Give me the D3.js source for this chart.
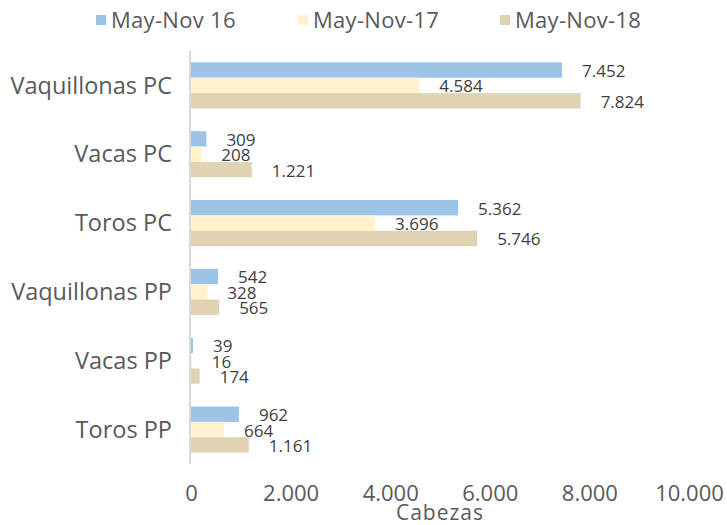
<!DOCTYPE html>
<html>
<head>
<meta charset="utf-8">
<script src="https://cdn.jsdelivr.net/npm/d3@7"></script>
<style>
  body { margin: 0; background: #fff; }
  text { font-family: "Open Sans", sans-serif; }
</style>
</head>
<body>
<div id="chart"></div>
<script>
const width = 727,
  height = 525;

const categories = ["Vaquillonas PC", "Vacas PC", "Toros PC", "Vaquillonas PP", "Vacas PP", "Toros PP"];
const seriesNames = ["May-Nov 16", "May-Nov-17", "May-Nov-18"];
const may16 = [7452, 309, 5362, 542, 39, 962];
const may17 = [4584, 208, 3696, 328, 16, 664];
const may18 = [7824, 1221, 5746, 565, 174, 1161];
const xTicks = [0, 2000, 4000, 6000, 8000, 10000];
const colors = ["#9dc3e6", "#fff2cc", "#dfd3b4"];

const seriesValues = [may16, may17, may18];

const svg = d3
  .select("#chart")
  .append("svg")
  .attr("width", width)
  .attr("height", height);

const x = d3.scaleLinear().domain([0, 10000]).range([191, 689]);
const y = d3.scaleBand().domain(categories).range([51, 464]).paddingInner(0.33).paddingOuter(0.165);
const ySub = d3.scaleBand().domain(d3.range(3)).range([0, y.bandwidth()]);

const fmt = d3.formatLocale({ decimal: ",", thousands: ".", grouping: [3], currency: ["$", ""] }).format(",d");

// bars
const groups = svg
  .selectAll(".group")
  .data(categories)
  .enter()
  .append("g")
  .attr("transform", (d) => `translate(0,${y(d)})`);

groups.each(function (cat, i) {
  const g = d3.select(this);
  seriesValues.forEach(function (vals, s) {
    g.append("rect")
      .attr("x", x(0))
      .attr("y", ySub(s))
      .attr("width", x(vals[i]) - x(0))
      .attr("height", ySub.bandwidth())
      .attr("fill", colors[s]);
    g.append("text")
      .attr("x", x(vals[i]) + 20)
      .attr("y", ySub(s) + ySub.bandwidth() / 2 + 1)
      .attr("dy", "0.35em")
      .attr("font-size", 17)
      .attr("fill", "#404040")
      .text(fmt(vals[i]));
  });
});

// left axis line + category labels
svg
  .append("line")
  .attr("x1", 190)
  .attr("x2", 190)
  .attr("y1", 51)
  .attr("y2", 464)
  .attr("stroke", "#d9d9d9")
  .attr("stroke-width", 2);

svg
  .selectAll(".cat")
  .data(categories)
  .enter()
  .append("text")
  .attr("x", 172)
  .attr("y", (d) => y(d) + y.bandwidth() / 2)
  .attr("dy", "0.35em")
  .attr("text-anchor", "end")
  .attr("font-size", 23.5)
  .attr("fill", "#595959")
  .text((d) => d);

// bottom axis labels
const xAxis = d3.axisBottom(x).tickValues(xTicks).tickSize(0).tickPadding(0).tickFormat(fmt);
const ax = svg.append("g").attr("transform", "translate(0,485)").call(xAxis);
ax.select(".domain").remove();
ax.selectAll("text")
  .attr("font-size", 22)
  .attr("fill", "#595959")
  .attr("font-family", "Open Sans, sans-serif")
  .attr("dy", "0.71em");

svg
  .append("text")
  .attr("x", 440)
  .attr("y", 520)
  .attr("text-anchor", "middle")
  .attr("font-size", 21)
  .attr("letter-spacing", 1)
  .attr("fill", "#595959")
  .text("Cabezas");

// legend
const legendX = [96, 298, 500];
const legend = svg
  .selectAll(".legend")
  .data(seriesNames)
  .enter()
  .append("g")
  .attr("transform", (d, i) => `translate(${legendX[i]},20)`);
legend
  .append("rect")
  .attr("x", 0)
  .attr("y", -5)
  .attr("width", 10)
  .attr("height", 10)
  .attr("fill", (d, i) => colors[i]);
legend
  .append("text")
  .attr("x", 15)
  .attr("y", 0)
  .attr("dy", "0.35em")
  .attr("font-size", 22)
  .attr("letter-spacing", 0.3)
  .attr("fill", "#595959")
  .text((d) => d);
</script>
</body>
</html>
